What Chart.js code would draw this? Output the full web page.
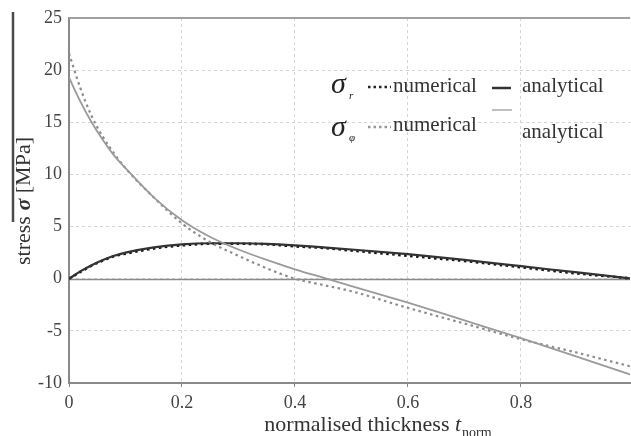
<!DOCTYPE html>
<html><head><meta charset="utf-8">
<script src="https://cdn.jsdelivr.net/npm/chart.js@4"></script>
<style>html,body{margin:0;padding:0;background:#fff}#w{width:631px;height:436px}</style>
</head><body><div id="w"><canvas id="c"></canvas></div>
<script>
const xTicks = [0, 0.2, 0.4, 0.6, 0.8];
const yTicks = [-10, -5, 0, 5, 10, 15, 20, 25];
const thickness = [0, 0.02, 0.04, 0.06, 0.08, 0.1, 0.15, 0.2, 0.25, 0.3, 0.35, 0.4, 0.45, 0.5, 0.6, 0.7, 0.8, 0.9, 1.0];
const sigmaPhiAnalytical = [19.3, 17.0, 15.0, 13.3, 11.8, 10.6, 7.8, 5.6, 4.0, 2.8, 1.8, 0.9, 0.1, -0.7, -2.3, -4.0, -5.7, -7.5, -9.3];
const sigmaPhiNumerical  = [21.6, 18.3, 15.6, 13.6, 12.0, 10.6, 7.8, 5.3, 3.5, 2.2, 1.0, 0.0, -0.6, -1.2, -2.8, -4.3, -5.8, -7.1, -8.5];
const sigmaRAnalytical   = [0, 0.7, 1.3, 1.8, 2.2, 2.5, 3.0, 3.3, 3.4, 3.4, 3.35, 3.2, 3.0, 2.8, 2.35, 1.8, 1.2, 0.6, 0];
const sigmaRNumerical    = [0, 0.65, 1.25, 1.75, 2.15, 2.4, 2.9, 3.2, 3.35, 3.35, 3.3, 3.1, 2.95, 2.7, 2.2, 1.7, 1.1, 0.5, 0];

const pts = arr => thickness.map((x, i) => ({x, y: arr[i]}));
const SERIF = '"Liberation Serif", "DejaVu Serif", serif';

const deco = {
  id: 'deco',
  beforeDatasetsDraw(chart) {
    const {ctx, chartArea: a, scales: {x, y}} = chart;
    ctx.save();
    ctx.strokeStyle = '#8a8a8a';
    ctx.lineWidth = 1.6;
    const y0 = Math.round(y.getPixelForValue(0)) + 0.5;
    ctx.beginPath(); ctx.moveTo(a.left, y0); ctx.lineTo(a.right, y0); ctx.stroke();
    ctx.strokeStyle = '#a0a0a0';
    ctx.lineWidth = 2;
    const yt = y.getPixelForValue(25);
    ctx.beginPath(); ctx.moveTo(a.left, yt); ctx.lineTo(a.right, yt); ctx.stroke();
    ctx.restore();
  },
  afterDraw(chart) {
    const {ctx} = chart;
    ctx.save();
    // stray vertical bar at left edge
    ctx.strokeStyle = '#4a4a4a'; ctx.lineWidth = 2.5;
    ctx.beginPath(); ctx.moveTo(13, 12); ctx.lineTo(13, 222); ctx.stroke();
    ctx.fillStyle = '#333';
    // y title
    ctx.save();
    ctx.translate(30, 201);
    ctx.rotate(-Math.PI / 2);
    ctx.textBaseline = 'alphabetic';
    const F = '22px ' + SERIF, FI = 'italic bold 22px ' + SERIF;
    const p1 = 'stress ', p2 = 'σ', p3 = ' [MPa]';
    ctx.font = F; const w1 = ctx.measureText(p1).width, w3 = ctx.measureText(p3).width;
    ctx.font = FI; const w2 = ctx.measureText(p2).width;
    let sx = -(w1 + w2 + w3) / 2;
    ctx.font = F; ctx.fillText(p1, sx, 0); sx += w1;
    ctx.font = FI; ctx.fillText(p2, sx, 0); sx += w2;
    ctx.font = F; ctx.fillText(p3, sx, 0);
    ctx.restore();
    // x title
    ctx.font = F;
    const t1 = 'normalised thickness ';
    const tw1 = ctx.measureText(t1).width;
    ctx.font = 'italic 22px ' + SERIF; const tw2 = ctx.measureText('t').width;
    ctx.font = '14px ' + SERIF; const tw3 = ctx.measureText('norm').width;
    let tx = 378 - (tw1 + tw2 + tw3 + 1) / 2;
    ctx.font = F; ctx.fillText(t1, tx, 431); tx += tw1;
    ctx.font = 'italic 22px ' + SERIF; ctx.fillText('t', tx, 431); tx += tw2 + 1;
    ctx.font = '14px ' + SERIF; ctx.fillText('norm', tx, 437);
    // legend
    ctx.font = 'italic 30px ' + SERIF; ctx.fillStyle = '#222';
    ctx.fillText('σ', 331, 93);
    ctx.fillText('σ', 331, 136);
    ctx.font = 'italic 11px ' + SERIF;
    ctx.fillText('r', 349, 99);
    ctx.fillText('φ', 349, 141);
    ctx.font = '21px ' + SERIF; ctx.fillStyle = '#333';
    ctx.fillText('numerical', 393, 92);
    ctx.fillText('analytical', 522, 92);
    ctx.fillText('numerical', 393, 131);
    ctx.fillText('analytical', 522, 138);
    ctx.lineWidth = 2.5; ctx.setLineDash([2.5, 3]);
    ctx.strokeStyle = '#222';
    ctx.beginPath(); ctx.moveTo(368, 87); ctx.lineTo(391, 87); ctx.stroke();
    ctx.strokeStyle = '#999';
    ctx.beginPath(); ctx.moveTo(368, 127); ctx.lineTo(391, 127); ctx.stroke();
    ctx.setLineDash([]);
    ctx.strokeStyle = '#333'; ctx.lineWidth = 2.5;
    ctx.beginPath(); ctx.moveTo(492, 88); ctx.lineTo(511, 88); ctx.stroke();
    ctx.strokeStyle = '#aaa'; ctx.lineWidth = 1.5;
    ctx.beginPath(); ctx.moveTo(492, 110); ctx.lineTo(512, 110); ctx.stroke();
    ctx.restore();
  }
};

new Chart(document.getElementById('c'), {
  type: 'scatter',
  data: {
    datasets: [
      {label: 'σφ analytical', data: pts(sigmaPhiAnalytical), showLine: true, borderColor: '#9a9a9a', borderWidth: 1.8, pointRadius: 0, cubicInterpolationMode: 'monotone'},
      {label: 'σφ numerical', data: pts(sigmaPhiNumerical), showLine: true, borderColor: '#8c8c8c', borderWidth: 2.2, borderDash: [2.5, 3.5], pointRadius: 0, cubicInterpolationMode: 'monotone'},
      {label: 'σr analytical', data: pts(sigmaRAnalytical), showLine: true, borderColor: '#333', borderWidth: 2.2, pointRadius: 0, cubicInterpolationMode: 'monotone'},
      {label: 'σr numerical', data: pts(sigmaRNumerical), showLine: true, borderColor: '#111', borderWidth: 2.6, borderDash: [2.5, 3.5], pointRadius: 0, cubicInterpolationMode: 'monotone'}
    ]
  },
  options: {
    responsive: true, maintainAspectRatio: false, animation: false,
    layout: {padding: {top: 18, right: 1, left: 0, bottom: 0}},
    plugins: {legend: {display: false}, tooltip: {enabled: false}},
    scales: {
      x: {
        type: 'linear', min: 0, max: 0.993,
        afterBuildTicks: s => { s.ticks = xTicks.map(v => ({value: v})); },
        afterFit: s => { s.height = 53; },
        ticks: {font: {family: SERIF, size: 18}, color: '#444', maxRotation: 0, padding: 5},
        grid: {color: '#d4d4d4', lineWidth: 1, drawTicks: true, tickLength: 4, tickColor: '#888'},
        border: {display: true, color: '#8a8a8a', width: 2, dash: [3, 3]}
      },
      y: {
        type: 'linear', min: -10, max: 25,
        afterBuildTicks: s => { s.ticks = yTicks.map(v => ({value: v})); },
        afterFit: s => { s.width = 69; },
        ticks: {font: {family: SERIF, size: 18}, color: '#444', padding: 7},
        grid: {color: '#d4d4d4', lineWidth: 1, drawTicks: false},
        border: {display: true, color: '#8a8a8a', width: 2, dash: [3, 3]}
      }
    }
  },
  plugins: [deco]
});
</script></body></html>
